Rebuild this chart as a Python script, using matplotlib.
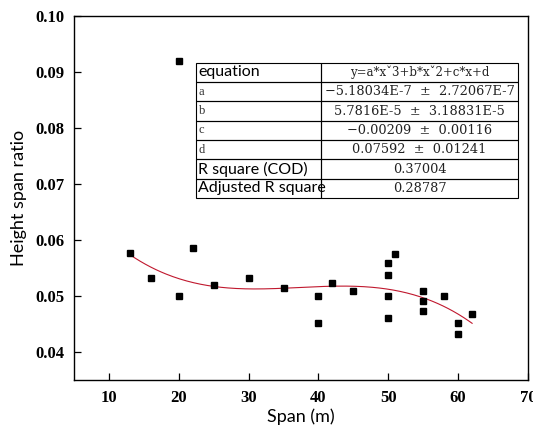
import numpy as np
import matplotlib
matplotlib.use('Agg')
from matplotlib import pyplot as plt

# data
span = [13, 16, 20, 20, 22, 25, 30, 35, 40, 40, 42, 45,
        50, 50, 50, 50, 51, 55, 55, 55, 58, 60, 60, 62]
ratio = [0.0577, 0.0532, 0.0920, 0.0500, 0.0586, 0.0520, 0.0533, 0.0514,
         0.0500, 0.0451, 0.0524, 0.0509,
         0.0559, 0.0537, 0.0500, 0.0461, 0.0575,
         0.0509, 0.0491, 0.0473, 0.0500, 0.0451, 0.0433, 0.0468]

# cubic fit coefficients as printed in the table
coef = [-5.18034e-7, 5.7816e-5, -0.00209, 0.07592]
fit_range = [13, 62]

x_ticks = [10, 20, 30, 40, 50, 60, 70]
y_ticks = [0.04, 0.05, 0.06, 0.07, 0.08, 0.09, 0.10]

table_rows = [
    ['equation', 'y=a*x\u02c73+b*x\u02c72+c*x+d'],
    ['a', '\u22125.18034E-7  \u00b1  2.72067E-7'],
    ['b', '5.7816E-5  \u00b1  3.18831E-5'],
    ['c', '\u22120.00209  \u00b1  0.00116'],
    ['d', '0.07592  \u00b1  0.01241'],
    ['R square (COD)', '0.37004'],
    ['Adjusted R square', '0.28787'],
]

fig = plt.figure(figsize=(5.33, 4.30), dpi=100)
ax = fig.add_axes([0.1388, 0.1163, 0.8518, 0.8465])

xs = np.linspace(fit_range[0], fit_range[1], 200)
ax.plot(xs, np.polyval(coef, xs), color='#c0182e', lw=0.8, zorder=2)
ax.plot(span, ratio, 's', color='black', ms=3.8, zorder=3)

ax.set_xlim(5, 70)
ax.set_ylim(0.035, 0.10)
ax.set_xticks(x_ticks)
ax.set_yticks(y_ticks)
ax.set_xticklabels([str(v) for v in x_ticks])
ax.set_yticklabels(['%.2f' % v for v in y_ticks])
ax.tick_params(direction='in', length=5, width=0.9, top=False, right=False,
               labelsize=12, pad=7)
for lab in ax.get_xticklabels() + ax.get_yticklabels():
    lab.set_fontfamily('Liberation Serif')
    lab.set_fontweight('bold')
for s in ax.spines.values():
    s.set_linewidth(1.0)

ax.set_xlabel('Span (m)', fontsize=13, family='Lato', labelpad=2)
ax.set_ylabel('Height span ratio', fontsize=13, family='Lato', labelpad=6)

# parameter table
tb = ax.table(cellText=table_rows, bbox=[0.2687, 0.5, 0.7093, 0.3717],
              colWidths=[0.388, 0.612], cellLoc='center')
tb.auto_set_font_size(False)
for (r, c), cell in tb.get_celld().items():
    cell.set_linewidth(0.8)
    cell.set_edgecolor('black')
    cell.set_facecolor('none')
    txt = cell.get_text()
    txt.set_zorder(6)
    if c == 0:
        txt.set_ha('left')
        cell.PAD = 0.02
        if r in (0, 5, 6):
            txt.set_fontsize(11.5)
            txt.set_fontfamily('Lato')
        else:
            txt.set_fontsize(9)
            txt.set_fontfamily('Liberation Serif')
            txt.set_color('#333333')
    else:
        txt.set_fontfamily('DejaVu Serif')
        txt.set_fontsize(9.3)
        txt.set_color('#222222')
        if r == 0:
            txt.set_fontsize(8.5)

fig.savefig('out.png', dpi=100)
